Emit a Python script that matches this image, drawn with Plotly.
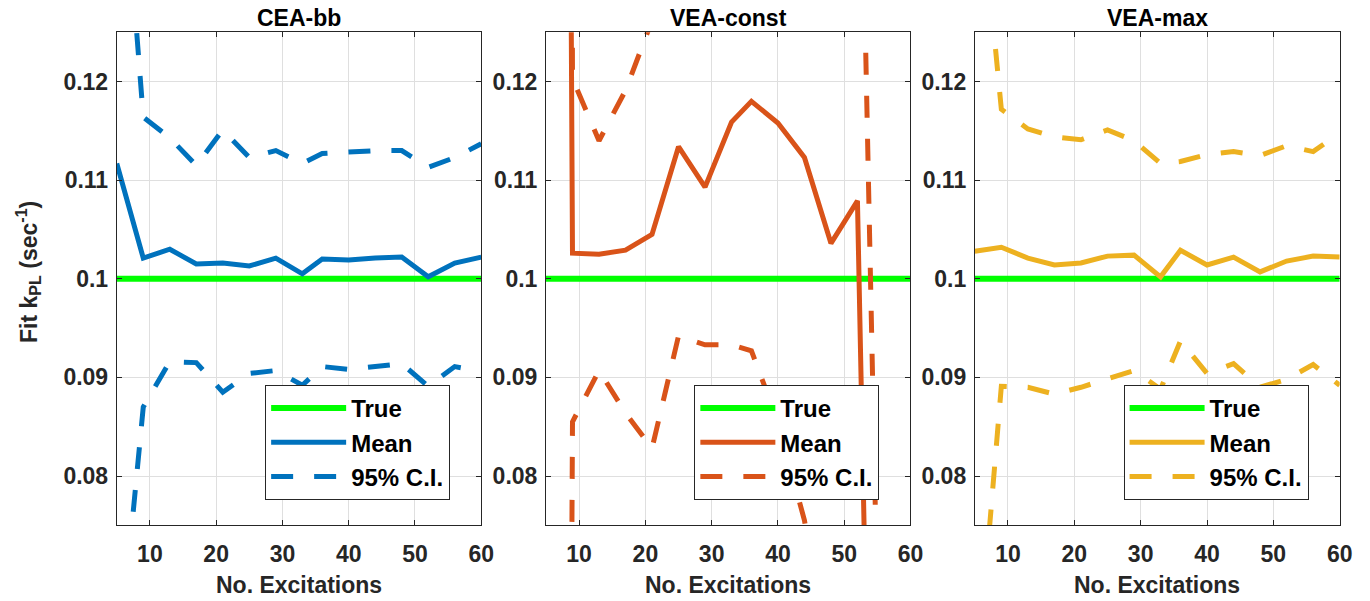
import plotly.graph_objects as go

# ---------------- data ----------------
n_exc = [5, 9, 13, 17, 21, 25, 29, 33, 36, 40, 44, 48, 52, 56, 60]
true_kpl = 0.1

cea_mean = [0.1117, 0.1021, 0.1030, 0.1015, 0.1016, 0.1013, 0.1021, 0.1005,
            0.1020, 0.1019, 0.1021, 0.1022, 0.1002, 0.1016, 0.1022]
cea_upper = [0.151, 0.1164, 0.1143, 0.1115, 0.1151, 0.1123, 0.1130, 0.1117,
             0.1127, 0.1129, 0.1130, 0.1130, 0.1113, 0.1123, 0.1137]
cea_lower = [0.059, 0.0870, 0.0916, 0.0915, 0.0885, 0.0904, 0.0907, 0.0892,
             0.0911, 0.0908, 0.0911, 0.0914, 0.0891, 0.0911, 0.0906]

vconst_mean = [0.6, 0.1026, 0.1025, 0.1029, 0.1045, 0.1134, 0.1093, 0.1159,
               0.1180, 0.1158, 0.1123, 0.1036, 0.1079, -0.024, -0.03]
vconst_upper = [1.0, 0.1203, 0.1140, 0.1191, 0.1262, 0.16, 0.18, 0.17,
                0.19, 0.20, 0.18, 0.17, 0.163, 0.035, 0.03]
vconst_lower = [-0.4, 0.0855, 0.0907, 0.0864, 0.0828, 0.0942, 0.0933, 0.0933,
                0.0927, 0.0855, 0.0755, 0.060, 0.03, 0.02, 0.01]

vmax_mean = [0.1028, 0.1032, 0.1021, 0.1014, 0.1016, 0.1023, 0.1024, 0.1002,
             0.1029, 0.1014, 0.1022, 0.1007, 0.1018, 0.1023, 0.1022]
vmax_upper = [0.145, 0.1172, 0.1152, 0.1144, 0.1141, 0.1151, 0.1140, 0.1117,
              0.1119, 0.1126, 0.1129, 0.1125, 0.1135, 0.1129, 0.1148]
vmax_lower = [0.057, 0.0891, 0.0890, 0.0883, 0.0890, 0.0899, 0.0907, 0.0888,
              0.0937, 0.0904, 0.0914, 0.0890, 0.0898, 0.0913, 0.0892]

panel_titles = ["CEA-bb", "VEA-const", "VEA-max"]
panel_colors = ["#0072BD", "#D95319", "#EDB120"]
panel_data = [(cea_mean, cea_upper, cea_lower),
              (vconst_mean, vconst_upper, vconst_lower),
              (vmax_mean, vmax_upper, vmax_lower)]
legend_names = ["True", "Mean", "95% C.I."]
x_ticks = [10, 20, 30, 40, 50, 60]
y_ticks = [0.08, 0.09, 0.10, 0.11, 0.12]

# ---------------- layout geometry ----------------
W, H = 1370, 601
SX = 0.99  # horizontal compensation for the capture
x_doms = [(116.7, 481.0), (545.7, 910.0), (974.3, 1339.0)]
y_top, y_bot = 32.3, 525.3
leg_left = [265.0, 694.0, 1123.0]
leg_top = 385.0


def fx(px):
    return px / SX / W


FONT = "Liberation Sans, Arial, Helvetica, sans-serif"
AX = "#262626"

fig = go.Figure()
for i in range(3):
    xa = "x" if i == 0 else f"x{i+1}"
    ya = "y" if i == 0 else f"y{i+1}"
    lg = "legend" if i == 0 else f"legend{i+1}"
    col = panel_colors[i]
    mean, upper, lower = panel_data[i]
    fig.add_trace(go.Scatter(x=[n_exc[0], n_exc[-1]], y=[true_kpl, true_kpl], mode="lines",
                             line=dict(color="#00FF00", width=6), name=legend_names[0],
                             xaxis=xa, yaxis=ya, legend=lg))
    fig.add_trace(go.Scatter(x=n_exc, y=mean, mode="lines",
                             line=dict(color=col, width=5), name=legend_names[1],
                             xaxis=xa, yaxis=ya, legend=lg))
    fig.add_trace(go.Scatter(x=n_exc, y=upper, mode="lines",
                             line=dict(color=col, width=5, dash="22px,21px"), name=legend_names[2],
                             xaxis=xa, yaxis=ya, legend=lg))
    fig.add_trace(go.Scatter(x=n_exc, y=lower, mode="lines",
                             line=dict(color=col, width=5, dash="22px,21px"), name=legend_names[2],
                             showlegend=False, xaxis=xa, yaxis=ya, legend=lg))

axis_common = dict(showline=True, linecolor=AX, linewidth=1, mirror="ticks",
                   ticks="inside", ticklen=5, tickcolor=AX, tickwidth=1,
                   showgrid=True, gridcolor="#DFDFDF", gridwidth=1, zeroline=False,
                   tickfont=dict(family=FONT, size=23, color=AX, weight="bold"))

layout = dict(width=W, height=H, margin=dict(l=0, r=0, t=0, b=0), autosize=False,
              paper_bgcolor="white", plot_bgcolor="white", showlegend=True)
annotations = []
for i in range(3):
    sx = "" if i == 0 else str(i + 1)
    x0, x1 = x_doms[i]
    layout["xaxis" + sx] = dict(axis_common, domain=[fx(x0), fx(x1)], range=[5, 60],
                                tickvals=x_ticks, anchor="y" + sx, ticklabelstandoff=8)
    layout["yaxis" + sx] = dict(axis_common, domain=[1 - y_bot / H, 1 - y_top / H],
                                range=[0.075, 0.125], tickvals=y_ticks, anchor="x" + sx,
                                ticklabelstandoff=3)
    layout["legend" + sx] = dict(x=fx(leg_left[i]), y=1 - leg_top / H, xanchor="left",
                                 yanchor="top", bgcolor="white", bordercolor=AX, borderwidth=1,
                                 itemwidth=75,
                                 font=dict(family=FONT, size=24, color="black", weight="bold"))
    annotations.append(dict(text=panel_titles[i], x=fx((x0 + x1) / 2), y=1 - 18 / H,
                            xref="paper", yref="paper", showarrow=False,
                            xanchor="center", yanchor="middle",
                            font=dict(family=FONT, size=23, color="black", weight="bold")))
    annotations.append(dict(text="No. Excitations", x=fx((x0 + x1) / 2), y=1 - 585 / H,
                            xref="paper", yref="paper", showarrow=False,
                            xanchor="center", yanchor="middle",
                            font=dict(family=FONT, size=23, color=AX, weight="bold")))
annotations.append(dict(text="Fit k<sub>PL</sub> (sec<sup>-1</sup>)", x=fx(28), y=1 - 272 / H,
                        xref="paper", yref="paper", showarrow=False, textangle=-90,
                        xanchor="center", yanchor="middle",
                        font=dict(family=FONT, size=23, color=AX, weight="bold")))
layout["annotations"] = annotations
fig.update_layout(**layout)

fig.write_html("out.html",
               config={"displayModeBar": False, "responsive": False},
               post_script=("document.documentElement.style.overflow='hidden';"
                            "document.body.style.overflow='hidden';"
                            "document.body.style.margin='0px';"
                            "document.body.style.padding='0px';"))
